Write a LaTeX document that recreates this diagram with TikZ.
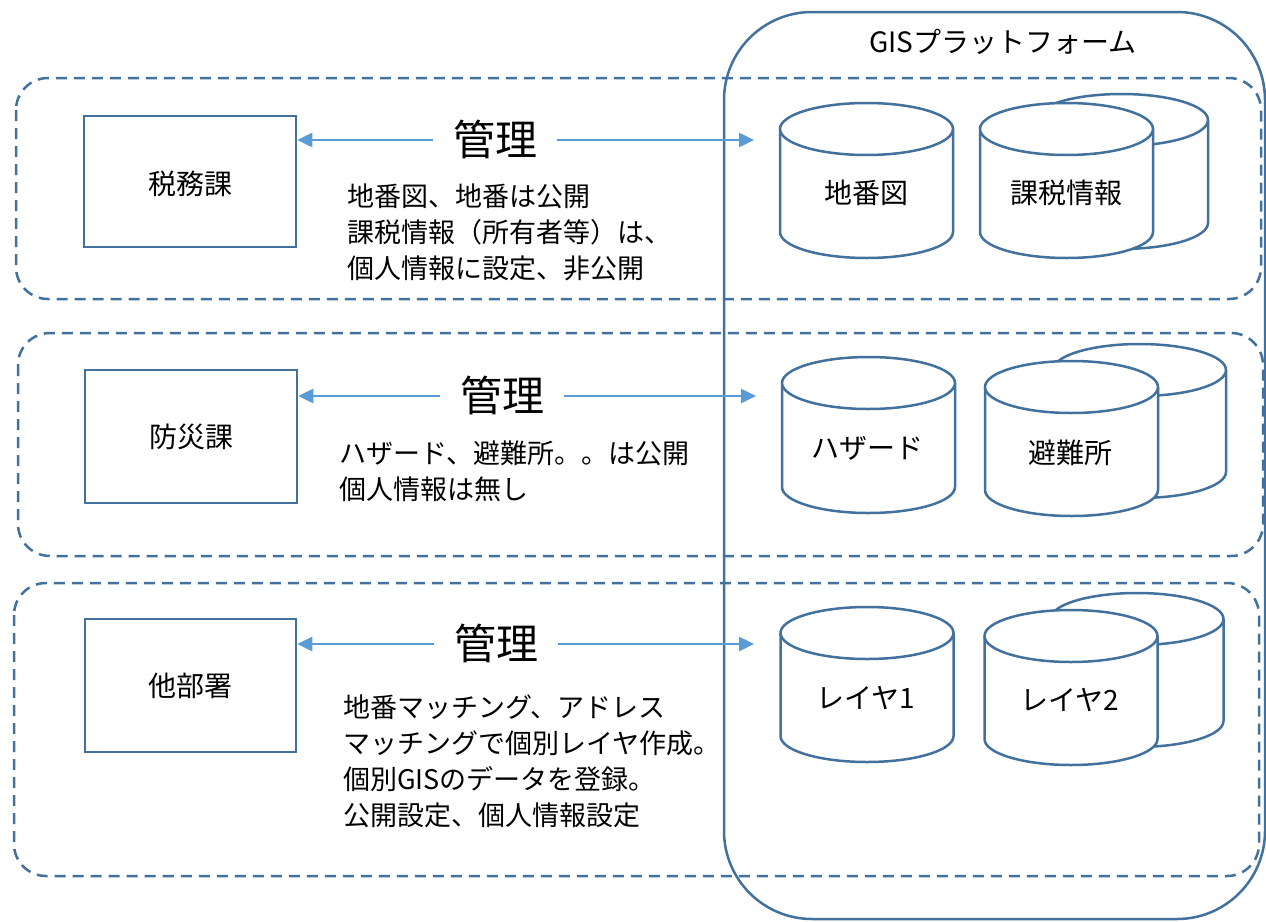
\documentclass[tikz,border=0pt]{standalone}
\usepackage{fontspec}
\setmainfont{Noto Sans CJK JP}
\usetikzlibrary{arrows.meta}
\definecolor{bdr}{RGB}{65,113,156}
\definecolor{arw}{RGB}{91,155,213}
\newcommand\DrawDbCyl[3]{%
  \filldraw[cylline] (#1-86.5,#2) -- (#1-86.5,#3)
    arc[start angle=180,end angle=0,x radius=86.5,y radius=26]
    -- (#1+86.5,#2)
    arc[start angle=0,end angle=-180,x radius=86.5,y radius=26] -- cycle;
  \draw[cylline] (#1+86.5,#2) arc[start angle=0,end angle=180,x radius=86.5,y radius=26];
}
\tikzset{
  cylline/.style={draw=bdr, line width=2.5pt, fill=white},
  grpbox/.style={draw=bdr, line width=2.5pt, dash pattern=on 11pt off 7pt, rounded corners=32pt},
  deptbox/.style={draw=bdr, line width=2.5pt, fill=white},
  deptlabel/.style={font=\fontsize{28}{34}\selectfont, inner sep=0pt},
  cyllabel/.style={font=\fontsize{28}{34}\selectfont, inner sep=0pt},
  mgmt/.style={font=\fontsize{42}{50}\selectfont, inner xsep=20pt, inner ysep=0pt},
  desc/.style={font=\fontsize{27}{36}\selectfont, align=left, inner sep=0pt, anchor=west},
  mgarrow/.style={draw=arw, line width=2.5pt, -{Triangle[length=15pt,width=14pt]}},
}
\begin{document}
\begin{tikzpicture}[x=1pt,y=-1pt]
\useasboundingbox (0,0) rectangle (1266,921);
% platform
\draw[draw=bdr, line width=2.5pt, rounded corners=88pt] (724,12) rectangle (1265,919);
\node[font=\fontsize{28}{32}\selectfont, inner sep=0pt] (plat) at (1003,42) {GISプラットフォーム};
% group boxes
\draw[grpbox] (16,78) rectangle (1261,299);
\draw[grpbox] (18,333) rectangle (1263,556);
\draw[grpbox] (14,583) rectangle (1259,876);
% department boxes
\node[deptbox, minimum width=212pt, minimum height=131pt] (zeimu) at (190,181.5) {};
\node[deptlabel] (zeimuT) at (190,184) {税務課};
\node[deptbox, minimum width=212pt, minimum height=133pt] (bosai) at (191,436.5) {};
\node[deptlabel] (bosaiT) at (191,437) {防災課};
\node[deptbox, minimum width=211pt, minimum height=133pt] (other) at (190.5,685.5) {};
\node[deptlabel] (otherT) at (190,686) {他部署};
% management arrows
\node[mgmt] (m1) at (495,139) {管理};
\coordinate (t1) at (754,140);
\draw[mgarrow] (m1.west |- t1) -- (zeimu.east |- t1);
\draw[mgarrow] (m1.east |- t1) -- (t1);
\node[mgmt] (m2) at (502,395) {管理};
\coordinate (t2) at (756,396);
\draw[mgarrow] (m2.west |- t2) -- (bosai.east |- t2);
\draw[mgarrow] (m2.east |- t2) -- (t2);
\node[mgmt] (m3) at (496,643) {管理};
\coordinate (t3) at (754,644);
\draw[mgarrow] (m3.west |- t3) -- (other.east |- t3);
\draw[mgarrow] (m3.east |- t3) -- (t3);
% descriptions
\node[desc] (d1) at (347,232) {地番図、地番は公開\\課税情報（所有者等）は、\\個人情報に設定、非公開};
\node[desc] (d2) at (339,471) {ハザード、避難所。。は公開\\個人情報は無し};
\node[desc] (d3) at (343,761) {地番マッチング、アドレス\\マッチングで個別レイヤ作成。\\個別GISのデータを登録。\\公開設定、個人情報設定};
% cylinders row 1
\DrawDbCyl{866.5}{129}{232}
\DrawDbCyl{1121.5}{120}{223}
\DrawDbCyl{1066.5}{129}{232}
\node[cyllabel] (c1) at (866,193) {地番図};
\node[cyllabel] (c2) at (1066,193) {課税情報};
% row 2
\DrawDbCyl{868.5}{383}{487}
\DrawDbCyl{1139.5}{370}{472}
\DrawDbCyl{1071.5}{387}{490}
\node[cyllabel] (c3) at (867,448) {ハザード};
\node[cyllabel] (c4) at (1070,453) {避難所};
% row 3
\DrawDbCyl{867}{633}{736}
\DrawDbCyl{1137}{619}{721}
\DrawDbCyl{1071}{636}{739}
\node[cyllabel] (c5) at (866,698) {レイヤ1};
\node[cyllabel] (c6) at (1070,700) {レイヤ2};
\end{tikzpicture}
\end{document}
